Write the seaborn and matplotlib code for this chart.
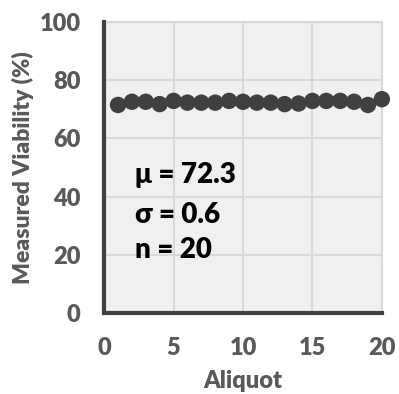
import matplotlib
matplotlib.use("Agg")
import matplotlib.pyplot as plt
import seaborn as sns
import pandas as pd

aliquot = list(range(1, 21))
viability = [71.5, 72.6, 72.6, 71.8, 72.9, 72.3, 72.3, 72.3, 72.9, 72.6,
             72.3, 72.3, 71.8, 72.0, 72.9, 72.9, 72.9, 72.6, 71.5, 73.5]
xticks = [0, 5, 10, 15, 20]
yticks = [0, 20, 40, 60, 80, 100]
stats_text = ["μ = 72.3", "σ = 0.6", "n = 20"]
stats_y = [47.4, 33.7, 21.6]

sns.set_style("white")
plt.rcParams['font.family'] = ['Lato', 'DejaVu Sans']

df = pd.DataFrame({"Aliquot": aliquot, "Viability": viability})

fig = plt.figure(figsize=(3.99, 3.94), dpi=100)
ax = fig.add_axes([0.261, 0.2056, 0.696, 0.7384])
ax.set_facecolor("#f0f0f0")

sns.scatterplot(data=df, x="Aliquot", y="Viability", ax=ax, s=140,
                color="#404040", edgecolor="none", zorder=3, clip_on=False)

ax.set_xlim(0, 20)
ax.set_ylim(0, 100)
ax.set_xticks(xticks)
ax.set_yticks(yticks)
ax.grid(True, color="#d9d9d9", linewidth=1.5, zorder=0)
ax.set_axisbelow(True)

for s in ["top", "right"]:
    ax.spines[s].set_visible(True)
    ax.spines[s].set_color("#d9d9d9")
    ax.spines[s].set_linewidth(1.5)
for s in ["left", "bottom"]:
    ax.spines[s].set_color("#404040")
    ax.spines[s].set_linewidth(3)
    ax.spines[s].set_zorder(4)

ax.tick_params(axis="both", direction="out", length=6, width=3,
               color="#404040", labelsize=17, labelcolor="#595959", pad=11)
for lab in ax.get_xticklabels() + ax.get_yticklabels():
    lab.set_fontweight("heavy")

ax.set_xlabel("Aliquot", fontsize=17, fontweight="heavy", color="#595959", labelpad=8)
ax.set_ylabel("Measured Viability (%)", fontsize=16.5, fontweight="heavy", color="#595959", labelpad=4)

for t, y in zip(stats_text, stats_y):
    ax.text(2.2, y, t, fontsize=20, fontweight="heavy", color="black",
            va="center", ha="left", zorder=5)

fig.savefig("out.png", dpi=100)
